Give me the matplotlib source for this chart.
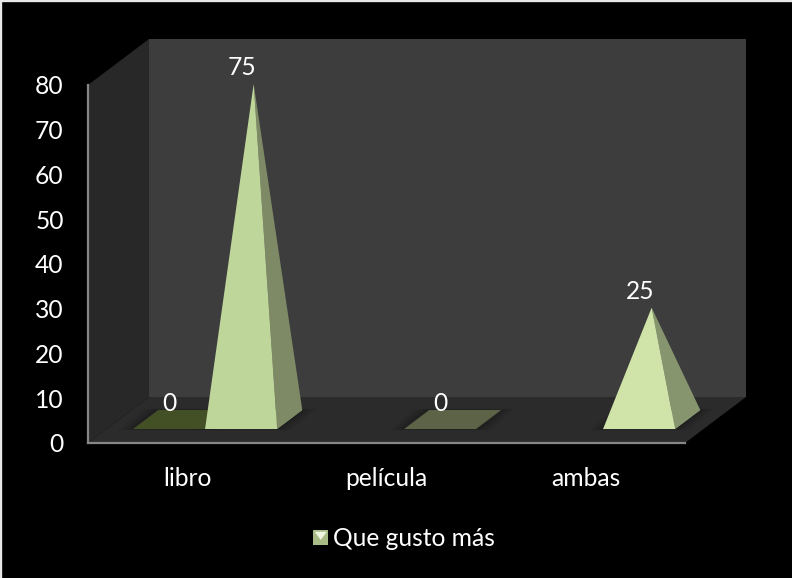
import matplotlib
matplotlib.use("Agg")
import matplotlib.pyplot as plt
from matplotlib.patches import Polygon, Rectangle
from matplotlib.legend_handler import HandlerBase
from matplotlib.lines import Line2D

categories = ["libro", "película", "ambas"]
series_a = [0, None, None]
series_b = [75, 0, 25]
series_name = "Que gusto más"
y_ticks = [0, 10, 20, 30, 40, 50, 60, 70, 80]

W, H = 792, 578
plt.rcParams["font.family"] = ["Lato", "DejaVu Sans"]
fig = plt.figure(figsize=(W / 100, H / 100), dpi=100, facecolor="black")
L, R, T, B = 88, 685, 85, 443
ax = fig.add_axes([L / W, 1 - B / H, (R - L) / W, (B - T) / H])
ax.set_facecolor("none")
ax.set_xlim(0, 3)
ax.set_ylim(0, 80)

DX = 61 / ((R - L) / 3)
DY = 46 / ((B - T) / 80)
FRONT, BACK = 0.304, 0.717
WIDTH = 0.362
SHIFT = -0.005
TXT = "#FFFFFF"
FS = 17.7


def proj(x, v, d):
    return (x + d * DX, v + d * DY)


def poly(pts, color, z, alpha=1.0, edge="none", lw=0):
    ax.add_patch(Polygon(pts, closed=True, facecolor=color, edgecolor=edge, linewidth=lw,
                         alpha=alpha, zorder=z, clip_on=False))


# walls and floor
poly([proj(0, 0, 0), proj(0, 80, 0), proj(0, 80, 1), proj(0, 0, 1)], "#282828", 1)
poly([proj(0, 0, 1), proj(0, 80, 1), proj(3, 80, 1), proj(3, 0, 1)], "#3D3D3D", 1)
poly([proj(0, 0, 0), proj(0, 0, 1), proj(3, 0, 1), proj(3, 0, 0)], "#2B2B2B", 2)


def base(x0, x1):
    return [proj(x0, 0, FRONT), proj(x1, 0, FRONT), proj(x1, 0, BACK), proj(x0, 0, BACK)]


def shadow(x0, x1):
    for grow, a in [(0.07, 0.12), (0.05, 0.16), (0.03, 0.2), (0.015, 0.25)]:
        g2 = grow * 80 * 0.12
        poly([proj(x0 - grow, -g2 * 0.45, FRONT), proj(x1 + grow, -g2 * 0.45, FRONT),
              proj(x1 + grow, g2 * 0.45, BACK), proj(x0 - grow, g2 * 0.45, BACK)], "#1A1A1A", 3, alpha=a)


def mark(x0, x1, value, flat_col, front_col, side_col, z):
    shadow(x0, x1)
    xm = (x0 + x1) / 2
    mid = (FRONT + BACK) / 2
    apex = proj(xm, value, mid)
    poly(base(x0, x1), flat_col, z)
    if value != 0:
        poly([proj(x1, 0, FRONT), proj(x1, 0, BACK), apex], side_col, z + 0.1)
        poly([proj(x0, 0, FRONT), proj(x1, 0, FRONT), apex], front_col, z + 0.2)
    ax.annotate(str(value), xy=apex, xytext=(-8.6, 11.5), textcoords="offset points",
                ha="center", va="center", color=TXT, fontsize=FS, zorder=10, annotation_clip=False)


point_styles = [("#7E8A66", "#BFD69B", "#7E8A66"),
                ("#5C6346", "#BFD69B", "#7E8A66"),
                ("#87956F", "#D0E4AA", "#87956F")]

for i, v in enumerate(series_a):
    if v is not None:
        mark(i + 0.5 - WIDTH + SHIFT, i + 0.5 + SHIFT, v, "#434F24", "#434F24", "#434F24", 4)
for i, v in enumerate(series_b):
    c = point_styles[i]
    mark(i + 0.5 + SHIFT, i + 0.5 + WIDTH + SHIFT, v, c[0], c[1], c[2], 5)

# axes
for s in ("top", "right"):
    ax.spines[s].set_visible(False)
for s in ("left", "bottom"):
    ax.spines[s].set_color("#868686")
    ax.spines[s].set_linewidth(1.6)
    ax.spines[s].set_zorder(6)
ax.set_yticks(y_ticks)
ax.set_xticks([i + 0.5 for i in range(len(categories))])
ax.set_xticklabels(categories)
ax.tick_params(axis="both", length=0, colors=TXT, labelsize=FS)
ax.tick_params(axis="y", pad=17.5)
ax.tick_params(axis="x", pad=17.5)


class Handler(HandlerBase):
    def create_artists(self, legend, orig, xd, yd, w, h, fs, trans):
        s = 10.8
        x0 = xd * -1 + w - s
        y0 = -yd + (h - s) / 2
        sq = Rectangle((x0, y0), s, s, facecolor="#A9BC85", edgecolor="none", transform=trans)
        tri = Polygon([(x0 + 1, y0 + s - 1), (x0 + s - 1, y0 + s - 1), (x0 + s / 2, y0 + 4)],
                      closed=True, facecolor="#F0F6DF", edgecolor="none", transform=trans)
        return [sq, tri]


h = Line2D([], [], label=series_name)
leg = fig.legend(handles=[h], labels=[series_name], handler_map={h: Handler()},
                 loc="center", bbox_to_anchor=(404 / W, 1 - 539 / H), frameon=False,
                 fontsize=FS, labelcolor=TXT, handlelength=0.62, handletextpad=0.2)

# outer frame: light edge along top and left only
fig.add_artist(Line2D([0, 0, 1], [0, 1, 1], transform=fig.transFigure, color="#E8E8E8", linewidth=2.4))

fig.savefig("out.png", dpi=100, facecolor="black")
